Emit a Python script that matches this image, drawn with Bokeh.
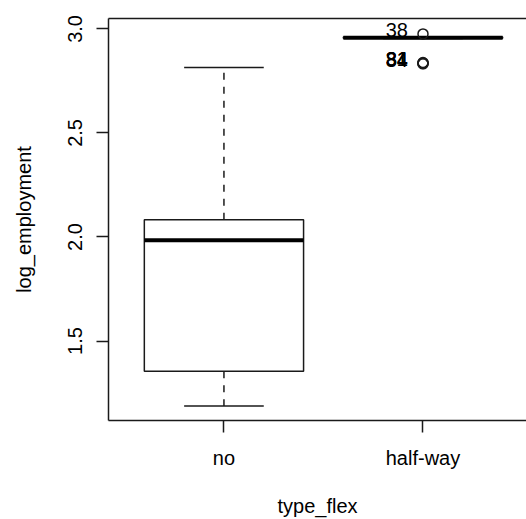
from bokeh.plotting import figure
from bokeh.models import FixedTicker, LinearAxis, Range1d, ColumnDataSource
from bokeh.core.properties import value
from bokeh.embed import file_html
from bokeh.resources import INLINE

# ---- data ----
categories = ["no", "half-way"]
cat_pos = [1, 2]
lower_whisker = [1.188, 2.954]
q1 = [1.355, 2.955]
median = [1.984, 2.958]
q3 = [2.083, 2.961]
upper_whisker = [2.815, 2.962]

outlier_cat = [2, 2, 2, 2, 2]
outlier_value = [2.976, 2.838, 2.836, 2.834, 2.832]
outlier_label = ["38", "31", "34", "81", "84"]

y_ticks = [1.5, 2.0, 2.5, 3.0]
y_tick_labels = ["1.5", "2.0", "2.5", "3.0"]

FONT = "Liberation Sans"
FS = "20px"
BOX_W = 0.8
CAP_W = 0.4

p = figure(width=526, height=519, output_backend="svg", toolbar_location=None,
           x_range=Range1d(0.42, 2.52), y_range=Range1d(1.118, 3.050),
           x_axis_label="type_flex", y_axis_label="log_employment",
           min_border_left=108, min_border_right=0, min_border_top=18,
           min_border_bottom=97)
p.outline_line_color = None
p.grid.visible = False
p.background_fill_color = "white"
p.border_fill_color = "white"

src = ColumnDataSource(dict(
    x=cat_pos,
    left=[c - BOX_W / 2 for c in cat_pos],
    right=[c + BOX_W / 2 for c in cat_pos],
    cl=[c - CAP_W / 2 for c in cat_pos],
    cr=[c + CAP_W / 2 for c in cat_pos],
    lw=lower_whisker, q1=q1, med=median, q3=q3, uw=upper_whisker,
))

LC = "#1a1a1a"
# whiskers (dashed)
p.segment(x0="x", y0="q3", x1="x", y1="uw", source=src, line_color=LC,
          line_width=1.5, line_dash="7 7")
p.segment(x0="x", y0="q1", x1="x", y1="lw", source=src, line_color=LC,
          line_width=1.5, line_dash="7 7")
# caps
p.segment(x0="cl", y0="uw", x1="cr", y1="uw", source=src, line_color=LC, line_width=1.5)
p.segment(x0="cl", y0="lw", x1="cr", y1="lw", source=src, line_color=LC, line_width=1.5)
# boxes
p.quad(left="left", right="right", bottom="q1", top="q3", source=src,
       fill_color="white", line_color=LC, line_width=1.5)
# medians
p.segment(x0="left", y0="med", x1="right", y1="med", source=src,
          line_color="black", line_width=4)

# outliers
osrc = ColumnDataSource(dict(x=outlier_cat, y=outlier_value, lab=outlier_label))
p.scatter(x="x", y="y", source=osrc, marker="circle", size=10,
          fill_color=None, line_color=LC, line_width=1.5)
p.text(x="x", y="y", text="lab", source=osrc, x_offset=-15, y_offset=-4,
       text_align="right", text_baseline="middle", text_color="black",
       text_font=value(FONT), text_font_size=FS)

# axes
xa = p.xaxis[0]
xa.ticker = FixedTicker(ticks=cat_pos)
xa.major_label_overrides = {c: n for c, n in zip(cat_pos, categories)}
ya = p.yaxis[0]
ya.ticker = FixedTicker(ticks=y_ticks)
ya.major_label_overrides = {t: s for t, s in zip(y_ticks, y_tick_labels)}
ya.major_label_orientation = "vertical"

for ax in (xa, ya):
    ax.axis_line_color = LC
    ax.axis_line_width = 1.5
    ax.major_tick_line_color = LC
    ax.major_tick_line_width = 1.5
    ax.major_tick_out = 12
    ax.major_tick_in = 0
    ax.minor_tick_line_color = None
    ax.major_label_text_font = FONT
    ax.major_label_text_font_size = FS
    ax.major_label_text_color = "black"
    ax.axis_label_text_font = FONT
    ax.axis_label_text_font_size = FS
    ax.axis_label_text_font_style = "normal"
    ax.axis_label_text_color = "black"

xa.major_label_standoff = 14
xa.axis_label_standoff = 23
ya.major_label_standoff = 14
ya.axis_label_standoff = 31

# top border of the plotting box
top = LinearAxis(ticker=FixedTicker(ticks=[]), axis_line_color=LC, axis_line_width=1.5,
                 major_tick_line_color=None, minor_tick_line_color=None,
                 major_label_text_font_size="0px")
p.add_layout(top, "above")

open("out.html", "w").write(file_html(p, INLINE))
